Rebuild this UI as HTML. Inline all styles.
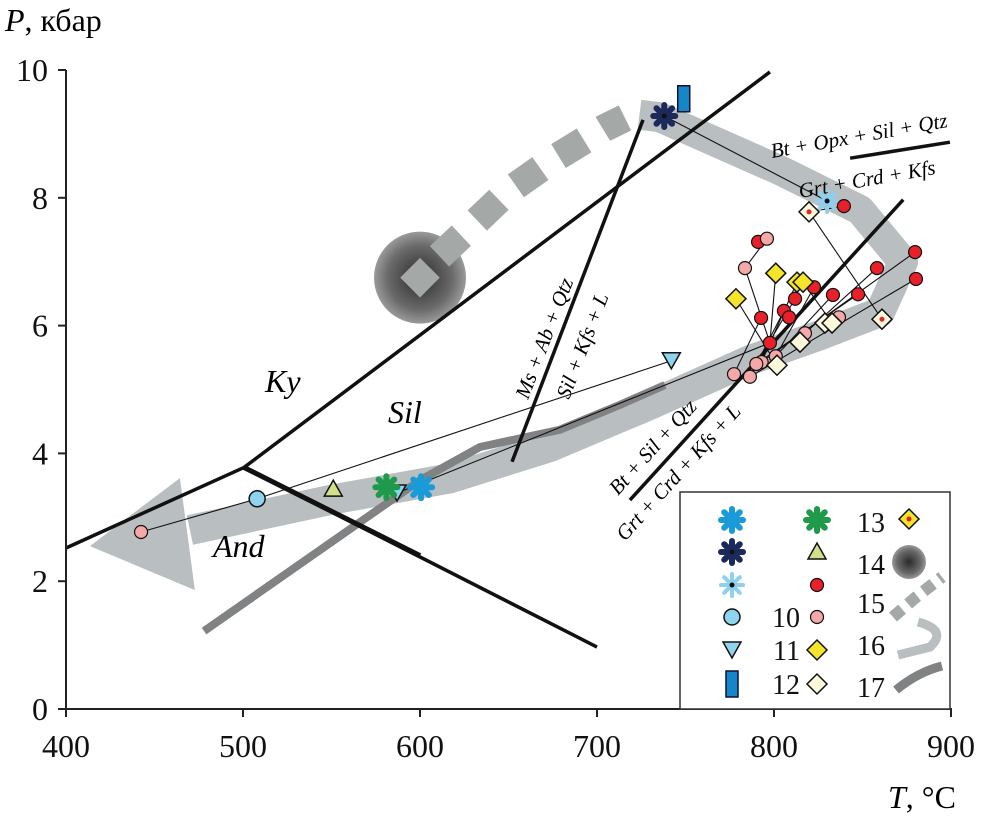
<!DOCTYPE html>
<html><head><meta charset="utf-8"><style>
body{margin:0;background:#fff;position:relative}
svg{display:block}
text{font-family:"Liberation Serif",serif}
</style></head><body>
<svg id="c" width="983" height="829" viewBox="0 0 983 829" font-family="Liberation Serif, serif">
<defs>
<radialGradient id="rg"><stop offset="0" stop-color="#2a2a2a"/><stop offset="0.7" stop-color="#6a6a6a"/><stop offset="1" stop-color="#9a9a9a"/></radialGradient>
</defs>
<g id="paths"></g>
<g id="lines"></g>
<g id="ties"></g>
<g id="marks"></g>
<g id="axes"></g>
<g id="labels"></g>
<g id="legend"></g>
</svg>
<script>
// ---- data ----
const xTicks=[400,500,600,700,800,900];
const yTicks=[0,2,4,6,8,10];
const s1=[[600.6,3.47]];
const s2=[[738,9.28]];
const s3=[[830,7.95]];
const s4=[[508,3.29]];
const s5=[[742,5.45],[587,3.38]];
const s6=[[749,9.55]];
const s7=[[581,3.47]];
const s8=[[551,3.44]];
const s9=[[839.5,7.87],[791,7.31],[879.7,7.15],[858.2,6.90],[880.2,6.73],[822.6,6.60],[833.3,6.48],[847.5,6.49],[811.9,6.42],[792.7,6.12],[805.6,6.23],[808.5,6.13],[797.7,5.73]];
const s10=[[442.4,2.77],[796,7.36],[783.6,6.90],[836.7,6.13],[777.4,5.24],[786.4,5.20],[817.5,5.88],[801,5.52],[793,5.43],[790,5.40]];
const s11=[[801,6.82],[778.5,6.42],[813,6.68],[816.4,6.68]];
const s12=[[801.7,5.38],[814.7,5.74],[828.8,6.04],[832.8,6.04]];
const s13=[[819.8,7.78],[861,6.10]];
const ties=[[442.4,2.77,508,3.29],[508,3.29,742,5.45],[587,3.38,795,5.70],[738,9.28,830,7.95],[819.8,7.78,839.5,7.87],[819.8,7.78,861,6.10],
[796,7.36,783.6,6.90],[783.6,6.90,797.7,5.73],[778.5,6.42,801.7,5.38],[801,6.82,797.7,5.73],[813,6.68,793,5.43],[816.4,6.68,832.8,6.04],
[792.7,6.12,777.4,5.24],[880.2,6.73,786.4,5.20],[879.7,7.15,793,5.43],[858.2,6.90,817.5,5.88],[822.6,6.60,801,5.52],[833.3,6.48,801,5.52],[847.5,6.49,790,5.40],[805.6,6.23,786.4,5.20],[811.9,6.42,790,5.40]];
const reactions=[[400,2.52,500.6,3.78,3.5],[500.6,3.78,797.7,9.97,3.5],[500.6,3.78,700,0.97,3.5],[500.6,3.78,600,2.4,5],[652,3.87,726,9.22,3.5],[718.6,3.27,873,7.97,3.5],[843,8.62,899.4,8.87,3.5]];
const path16=[[724,9.3],[735.6,9.26],[803.4,8.43],[848.6,7.81],[872.9,7.0],[859.9,6.21],[826,5.85],[786.4,5.46],[730,4.76],[673.4,4.10],[617,3.61],[549,3.27],[470,2.80]];
const path15=[[602.8,6.87],[625.4,7.46],[649.2,8.09],[676.3,8.62],[704,9.09],[715.8,9.25]];
const path17=[[478,1.22],[600,3.58],[633.9,4.10],[679,4.37],[713,4.76],[738.4,5.07]];
const X=t=>66+(t-400)*1.77, Y=p=>709-p*63.9;
const NS='http://www.w3.org/2000/svg';
function mk(tag,attrs,parent,txt){const e=document.createElementNS(NS,tag);for(const k in attrs)e.setAttribute(k,attrs[k]);if(txt!==undefined)e.textContent=txt;document.getElementById(parent).appendChild(e);return e;}
const pts=a=>a.map(d=>X(d[0])+','+Y(d[1])).join(' ');
let e=mk('polyline',{points:pts(path16),fill:'none',stroke:'#b9bec0','stroke-width':30,'stroke-linejoin':'round'},'paths');


{const x=X(470),y=Y(2.8);e=mk('polygon',{points:`${x-100},${y+16} ${x-10},${y-52} ${x+5},${y+60}`,fill:'#b9bec0'},'paths');}


e=mk('circle',{cx:X(600),cy:Y(6.75),r:46,fill:'url(#rg)'},'paths');


e=mk('polyline',{points:pts(path15),fill:'none',stroke:'#a4a9a8','stroke-width':28,'stroke-dasharray':'30 22','stroke-dashoffset':'-20'},'paths');


{const x=X(600),y=Y(6.75);e=mk('rect',{x:x-14,y:y-14,width:28,height:28,fill:'#a4a9a8',transform:`rotate(45 ${x} ${y})`},'paths');}


e=mk('polyline',{points:pts(path17),fill:'none',stroke:'#808284','stroke-width':8,'stroke-linejoin':'round'},'paths');


reactions.forEach(r=>{const l=mk('line',{x1:X(r[0]),y1:Y(r[1]),x2:X(r[2]),y2:Y(r[3]),stroke:'#111','stroke-width':r[4]},'lines');

});
ties.forEach(r=>{const l=mk('line',{x1:X(r[0]),y1:Y(r[1]),x2:X(r[2]),y2:Y(r[3]),stroke:'#111','stroke-width':1.1},'ties');

});
function sym(type,x,y,g){let el;const G=g||'marks';
 if(type==='ast'||type==='astB'||type==='astG'||type==='astL'){
  const col={ast:'#1a9ad6',astB:'#111',astG:'#1f9a4a',astL:'#8fd0ee'}[type];el=mk('g',{},G);
  for(let i=0;i<4;i++){const a=i*Math.PI/4;const line=document.createElementNS(NS,'line');
   line.setAttribute('x1',x-11*Math.cos(a));line.setAttribute('y1',y-11*Math.sin(a));line.setAttribute('x2',x+11*Math.cos(a));line.setAttribute('y2',y+11*Math.sin(a));
   line.setAttribute('stroke',type==='astB'?'#1b2a5a':col);line.setAttribute('stroke-width',type==='astL'?4:6);line.setAttribute('stroke-linecap','round');el.appendChild(line);}
  if(type==='astB'||type==='astL'){const c=document.createElementNS(NS,'circle');c.setAttribute('cx',x);c.setAttribute('cy',y);c.setAttribute('r',2.5);c.setAttribute('fill','#111');el.appendChild(c);}
 } else if(type==='circ') el=mk('circle',{cx:x,cy:y,r:8,fill:'#8fd4ee',stroke:'#111','stroke-width':1.5},G);
 else if(type==='red') el=mk('circle',{cx:x,cy:y,r:6.5,fill:'#e8202a',stroke:'#111','stroke-width':1.2},G);
 else if(type==='pink') el=mk('circle',{cx:x,cy:y,r:6.5,fill:'#f4a9a8',stroke:'#111','stroke-width':1.2},G);
 else if(type==='tri') el=mk('polygon',{points:`${x-9},${y-8} ${x+9},${y-8} ${x},${y+8}`,fill:'#8fd4ee',stroke:'#111','stroke-width':1.5},G);
 else if(type==='triG') el=mk('polygon',{points:`${x-9},${y+7} ${x+9},${y+7} ${x},${y-9}`,fill:'#d2e08a',stroke:'#111','stroke-width':1.5},G);
 else if(type==='rect') el=mk('rect',{x:x-6,y:y-13,width:12,height:26,fill:'#1586c8',stroke:'#113','stroke-width':1.5},G);
 else { const col={yd:'#f5e52a',cd:'#fbf8dc',dd:'#fbf8dc'}[type];
  el=mk('polygon',{points:`${x},${y-10} ${x+10},${y} ${x},${y+10} ${x-10},${y}`,fill:type==='dd'&&G==='legend'?'#f5e52a':col,stroke:'#111','stroke-width':1.5},G);
  if(type==='dd'){const d=mk('circle',{cx:x,cy:y,r:2.5,fill:'#e8202a'},G);
}}
 return el;}
const series=[[s1,'ast'],[s2,'astB'],[s3,'astL'],[s4,'circ'],[s5,'tri'],[s6,'rect'],[s7,'astG'],[s8,'triG'],[s9,'red'],[s10,'pink'],[s11,'yd'],[s12,'cd'],[s13,'dd']];
series.forEach((s,i)=>s[0].forEach(d=>{const el=sym(s[1],X(d[0]),Y(d[1]));

}));
e=mk('line',{x1:66,y1:70,x2:66,y2:710,stroke:'#222','stroke-width':2},'axes');


e=mk('line',{x1:65,y1:709,x2:952,y2:709,stroke:'#222','stroke-width':2},'axes');


const SERIF='Liberation Serif, serif';
xTicks.forEach(t=>{mk('line',{x1:X(t),y1:709,x2:X(t),y2:717,stroke:'#222','stroke-width':2},'axes');
 const tx=mk('text',{x:X(t),y:757,'font-size':32,'font-family':SERIF,'text-anchor':'middle',fill:'#111'},'axes',t);
 
 });
yTicks.forEach(t=>{mk('line',{x1:58,y1:Y(t),x2:66,y2:Y(t),stroke:'#222','stroke-width':2},'axes');
 const tx=mk('text',{x:48,y:Y(t)+11,'font-size':32,'font-family':SERIF,'text-anchor':'end',fill:'#111'},'axes',t);
 
 });
</script>
<svg style="position:absolute;left:0;top:0" width="983" height="829" font-family="Liberation Serif, serif">
<text x="5" y="31" font-size="32" font-family="Liberation Serif, serif"><tspan font-style="italic">P</tspan>, кбар</text>
<text x="888" y="808" font-size="32" font-family="Liberation Serif, serif"><tspan font-style="italic">T</tspan>, °C</text>
<g font-style="italic" font-size="32" font-family="Liberation Serif, serif">
<text x="265" y="392">Ky</text>
<text x="388" y="423">Sil</text>
<text x="213" y="557">And</text>
</g>
<g font-style="italic" font-size="21" font-family="Liberation Serif, serif">
<text transform="translate(528,400) rotate(-69)">Ms + Ab + Qtz</text>
<text transform="translate(569,400) rotate(-69)">Sil + Kfs + L</text>
<text transform="translate(618,496) rotate(-48)">Bt + Sil + Qtz</text>
<text transform="translate(625,542) rotate(-48)">Grt + Crd + Kfs + L</text>
<text transform="translate(772,158) rotate(-10)">Bt + Opx + Sil + Qtz</text>
<text transform="translate(800,198) rotate(-10)">Grt + Crd + Kfs</text>
</g>
</svg>
<script>
(function(){
const L='legend';
let r=mk('rect',{x:680,y:492,width:270,height:217,fill:'#fff',stroke:'#333','stroke-width':1.5},L);


const rows=[520,552,585,617,650,684];
const c1=['ast','astB','astL','circ','tri','rect'], c2=['astG','triG','red','pink','yd','cd'];
rows.forEach((y,i)=>{let a=sym(c1[i],732,y,L);

let b=sym(c2[i],817,y,L);

if(i>=3){const t=mk('text',{x:800,y:y+10,'font-size':28,'font-family':'Liberation Serif, serif','text-anchor':'end',fill:'#111'},L,String(7+i));
}});
const r3=[522,564,603,645,687];
r3.forEach((y,i)=>{const t=mk('text',{x:857,y:y+10,'font-size':28,'font-family':'Liberation Serif, serif',fill:'#111'},L,String(13+i));
});
let d=sym('dd',909,519,L);

d=mk('circle',{cx:909,cy:562,r:17,fill:'url(#rg)'},L);

d=mk('polyline',{points:'893,617 915,598 942,577',fill:'none',stroke:'#a4a9a8','stroke-width':12,'stroke-dasharray':'12 8'},L);

d=mk('path',{d:'M918,622 Q948,630 930,647 L898,655',fill:'none',stroke:'#b9bec0','stroke-width':9},L);

d=mk('path',{d:'M942,666 Q918,672 896,690',fill:'none',stroke:'#808284','stroke-width':9},L);

})();
</script>
</body></html>
